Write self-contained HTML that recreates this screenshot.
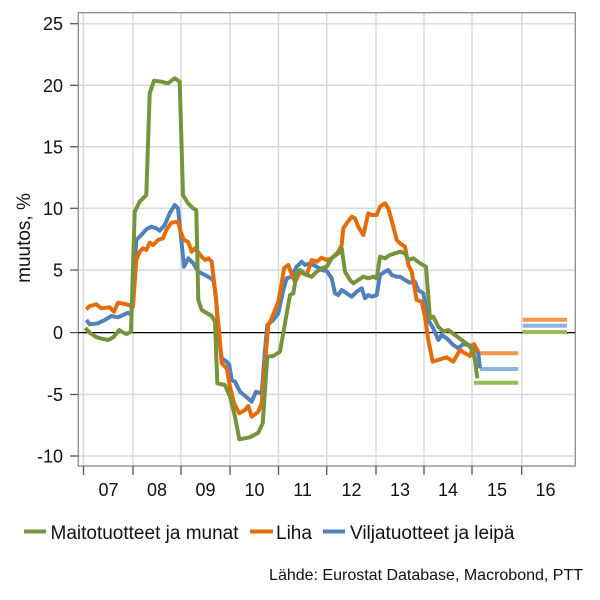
<!DOCTYPE html>
<html>
<head>
<meta charset="utf-8">
<style>
html,body{margin:0;padding:0;background:#fff;}
svg{display:block;font-family:"Liberation Sans",Arial,sans-serif;}
</style>
</head>
<body>
<svg width="600" height="600" viewBox="0 0 600 600" xmlns="http://www.w3.org/2000/svg">
<rect width="600" height="600" fill="#fff"/>
<!-- gridlines -->
<g stroke="#d9d9d9" stroke-width="1.5" fill="none">
<line x1="78" y1="23.7" x2="575" y2="23.7"/>
<line x1="78" y1="85.3" x2="575" y2="85.3"/>
<line x1="78" y1="146.8" x2="575" y2="146.8"/>
<line x1="78" y1="208.3" x2="575" y2="208.3"/>
<line x1="78" y1="270" x2="575" y2="270"/>
<line x1="78" y1="394.5" x2="575" y2="394.5"/>
<line x1="78" y1="456" x2="575" y2="456"/>
<line x1="83.5" y1="13" x2="83.5" y2="466"/>
<line x1="133" y1="13" x2="133" y2="466"/>
<line x1="181" y1="13" x2="181" y2="466"/>
<line x1="230" y1="13" x2="230" y2="466"/>
<line x1="278.5" y1="13" x2="278.5" y2="466"/>
<line x1="326.7" y1="13" x2="326.7" y2="466"/>
<line x1="376" y1="13" x2="376" y2="466"/>
<line x1="424" y1="13" x2="424" y2="466"/>
<line x1="472" y1="13" x2="472" y2="466"/>
<line x1="521.7" y1="13" x2="521.7" y2="466"/>
</g>
<!-- border -->
<rect x="78.3" y="12.7" width="497" height="453.3" fill="none" stroke="#8a8a8a" stroke-width="1.3"/>
<!-- zero line -->
<line x1="78" y1="332.6" x2="575" y2="332.6" stroke="#000" stroke-width="1.3"/>
<!-- ticks -->
<g stroke="#555" stroke-width="1.3">
<line x1="70" y1="23.7" x2="78" y2="23.7"/>
<line x1="70" y1="85.3" x2="78" y2="85.3"/>
<line x1="70" y1="146.8" x2="78" y2="146.8"/>
<line x1="70" y1="208.3" x2="78" y2="208.3"/>
<line x1="70" y1="270" x2="78" y2="270"/>
<line x1="70" y1="332.6" x2="78" y2="332.6"/>
<line x1="70" y1="394.5" x2="78" y2="394.5"/>
<line x1="70" y1="456" x2="78" y2="456"/>
<line x1="83.5" y1="466" x2="83.5" y2="475"/>
<line x1="133" y1="466" x2="133" y2="475"/>
<line x1="181" y1="466" x2="181" y2="475"/>
<line x1="230" y1="466" x2="230" y2="475"/>
<line x1="278.5" y1="466" x2="278.5" y2="475"/>
<line x1="326.7" y1="466" x2="326.7" y2="475"/>
<line x1="376" y1="466" x2="376" y2="475"/>
<line x1="424" y1="466" x2="424" y2="475"/>
<line x1="472" y1="466" x2="472" y2="475"/>
<line x1="521.7" y1="466" x2="521.7" y2="475"/>
</g>
<!-- y labels -->
<g font-size="18" fill="#111" text-anchor="end">
<text x="63" y="30.2">25</text>
<text x="63" y="91.8">20</text>
<text x="63" y="153.3">15</text>
<text x="63" y="214.8">10</text>
<text x="63" y="276.5">5</text>
<text x="63" y="339.1">0</text>
<text x="63" y="401">-5</text>
<text x="63" y="462.5">-10</text>
</g>
<!-- x labels -->
<g font-size="18" fill="#111" text-anchor="middle">
<text x="108.5" y="496">07</text>
<text x="157" y="496">08</text>
<text x="205.5" y="496">09</text>
<text x="254.5" y="496">10</text>
<text x="302.6" y="496">11</text>
<text x="351.5" y="496">12</text>
<text x="400" y="496">13</text>
<text x="448" y="496">14</text>
<text x="497" y="496">15</text>
<text x="545.5" y="496">16</text>
</g>
<!-- y axis title -->
<text transform="translate(30,238) rotate(-90)" font-size="19" fill="#111" text-anchor="middle">muutos, %</text>

<!-- projections -->
<g stroke-width="4" stroke-linecap="butt">
<line x1="478.3" y1="353.3" x2="518.3" y2="353.3" stroke="#f79646"/>
<line x1="480" y1="369" x2="518.3" y2="369" stroke="#8eb4e3"/>
<line x1="474" y1="382.7" x2="518.3" y2="382.7" stroke="#9bbb59"/>
<line x1="522.7" y1="319.8" x2="567" y2="319.8" stroke="#f79646"/>
<line x1="522.7" y1="325.8" x2="567" y2="325.8" stroke="#8eb4e3"/>
<line x1="522.7" y1="332" x2="567" y2="332" stroke="#9bbb59"/>
</g>

<g fill="none" stroke-width="4" stroke-linejoin="round" stroke-linecap="butt">
<!-- blue -->
<polyline stroke="#4f81bd" points="86.3,320 89.7,324.3 98,323.3 104.7,320 111.3,316 118,317.3 123,315 128,312.7 131.3,315 136.3,240 141.3,235 146.3,229.3 151.3,226.7 156.3,228.3 159.7,230.7 164.7,225 169.7,213.3 174.7,205 178,208.3 181.3,240 184,266.7 188.3,258.3 193.3,263.3 198.3,271.7 205,275 210.7,278.3 213.3,280 216,296.7 218.3,333.3 221.7,358.3 226.7,361.7 229.3,365 231.7,380 235,381.7 240,391.7 246.7,397.3 251.7,401.7 256,391.7 260,393.3 262,390 265,350 267.3,325 273.3,320 278.3,313.3 283.3,290 286.7,278.3 291.7,276.7 296.7,266.7 301.7,261.7 305,265 310,263.3 316.7,266.7 321.7,270 326.7,271 331.7,278.3 335,293.3 338.3,295 341.7,290 346.7,293.3 351.7,296.7 356.7,291.7 361.7,288.3 365,298.3 368.3,295 371.7,296.7 376.7,295 380,275 385,271.7 388.3,270 391.7,275 396.7,276.7 400,276.7 405,280 410,282.7 415,281.7 418.3,290 423.3,293.3 428.3,320 433.3,328.3 438.3,340 441.7,335 446.7,338.3 453.3,345 458.3,348.3 463.3,344 468.3,345 474,346 478.3,353.3 480,368.3"/>
<!-- orange -->
<polyline stroke="#e46c0a" points="86.3,309.3 89.7,306 96.3,304.3 101.3,308.3 109.7,307.3 114,311.7 118,302.7 124.7,304 128.7,305 133,306.7 136.3,260 139.7,251.7 143,248.3 146.3,250 149.7,242.7 153,245 158,240 163,238.3 166.3,230 171.3,222.7 178,221.7 180.7,231.7 184,240 188,241.7 191.7,251.7 195,248.3 201.7,256.7 205,260 208.3,258.3 211.7,261.7 215,290 219.3,333.3 221.7,363.3 226.7,368.3 230,386.7 234,403.3 239.3,413.3 245,410 248.3,406 251.7,416.7 258.3,411.7 261.7,403.3 265,363.3 268.3,325 271.7,318.3 278.3,301.7 281.7,283.3 284,268.3 288.3,265 291.7,274 295,282 300,272 306.7,275 311.7,260 316.7,261.7 321.7,257.7 326.7,260 331.7,258.3 338.3,251.7 341.7,245 343.3,228.3 346.7,223.3 351.7,216.7 355,218.3 358.3,226.7 363.3,235 368.3,213.3 371.7,215 376.7,215 380,206.7 385,203.3 388.3,208.3 393.3,226.7 396.7,240 400,243.3 405,246.7 408.3,265 411.7,271.7 416.7,300 421.7,301.7 425,316.7 428.3,340 432.7,361.7 440,359.3 446.7,357.3 453.3,361.7 460,350 465,353.3 470,356 474,344 478.3,351.7"/>
<!-- green -->
<polyline stroke="#77933c" points="85.3,328 90,333 96.7,337.3 103,339 108.3,340 113.3,337.3 119.3,330 124,333 126.7,334 131,331.7 134.7,211.7 139.7,201.7 146.3,195 149.7,93.3 154,80.7 161.3,81.7 168,83.3 174.7,78.3 179.7,81.7 183,195 188,203.3 193,208.3 196.3,210 198.3,300 201.7,310 211.7,316 215,321.7 217.3,383.3 225,385 230,396.7 235,416.7 239.3,439.3 250,437.3 258.3,432.7 262.7,423.3 267.3,356.7 273.3,356 280,351.7 285,323.3 290,295 293.3,293.3 296.7,273.3 300,270 306.7,275 311.7,276.7 316.7,271.7 321.7,268.3 326.7,266.7 331.7,258.3 338.3,253.3 341.7,248.3 345,271.7 350,280 353.3,283.3 358.3,280 363.3,276.7 368.3,278.3 373.3,276.7 376.7,278.3 380,256.7 385,258.3 390,255 395,253.3 400,251.7 405,253.3 408.3,260 413.3,258.3 420,263.3 426,266.7 430,318.3 433.3,316.7 438.3,326.7 443.3,331.7 448.3,330 455,335 461.7,340 468.3,345 472.7,350 475,360 477.3,378.3"/>
</g>

<!-- legend -->
<g stroke-width="4">
<line x1="24" y1="531.5" x2="46" y2="531.5" stroke="#77933c"/>
<line x1="250" y1="531.5" x2="273" y2="531.5" stroke="#e46c0a"/>
<line x1="323" y1="531.5" x2="345" y2="531.5" stroke="#4f81bd"/>
</g>
<g font-size="19" fill="#111">
<text x="50.5" y="539">Maitotuotteet ja munat</text>
<text x="276" y="539">Liha</text>
<text x="350" y="539">Viljatuotteet ja leipä</text>
</g>
<text x="583" y="580" font-size="16" fill="#111" text-anchor="end">Lähde: Eurostat Database, Macrobond, PTT</text>
</svg>
</body>
</html>
